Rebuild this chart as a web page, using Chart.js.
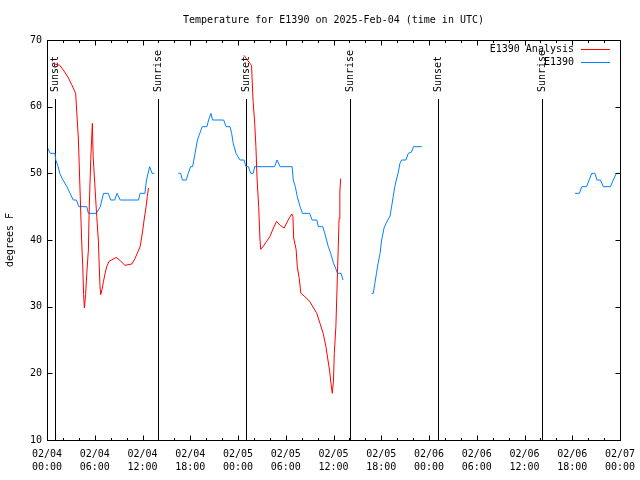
<!DOCTYPE html>
<html>
<head>
<meta charset="utf-8">
<title>Temperature for E1390</title>
<script src="https://cdn.jsdelivr.net/npm/chart.js@4"></script>
<style>
  html, body { margin: 0; padding: 0; background: #fff; }
  canvas { display: block; }
</style>
</head>
<body>
<canvas id="tempChart" width="640" height="480"></canvas>
<script>
// hours since 02/04 00:00 UTC, null = gap in the record
const analysisHours = [
  0.7, 1.6, 2.05, 2.7, 3.1, 3.6, 3.95, 4.15, 4.35, 4.5, 4.6, 4.7, 4.85, 5.0, 5.2, 5.3, 5.5, 5.7, 5.8,
  6.25, 6.45, 6.65, 6.75, 6.9, 7.1, 7.3, 7.5, 7.8, 8.1, 8.7, 9.2, 9.8, 10.65, 11.05, 11.7, 12.0,
  12.2, 12.45, 12.6, 12.75,
  null,
  24.75, 25.5, 25.7, 25.9, 26.1, 26.25, 26.4, 26.6, 26.75, 26.85, 27.2, 27.6, 28.0, 28.45, 28.85,
  29.3, 29.8, 30.3, 30.75, 30.9, 31.0, 31.3, 31.45, 31.7, 31.9, 32.4, 33.0, 33.5, 33.9, 34.3, 34.7,
  35.05, 35.3, 35.5, 35.65, 35.85, 36.0, 36.1, 36.3, 36.4, 36.5, 36.6, 36.7, 36.8, 36.9
];
const analysisTemps = [
  66.5, 66.2, 65.5, 64.3, 63.3, 62, 55, 47.5, 40, 35.8, 31.8, 29.8, 31.8, 35, 38.5, 44.5, 52.2, 57.5, 52.5,
  43.5, 40, 33.2, 31.8, 32.5, 33.8, 35, 36, 36.8, 37, 37.4, 36.9, 36.2, 36.4, 37.2, 39, 41.2,
  43, 45, 46.5, 47.8,
  null,
  67.7, 66.5, 66.2, 60.8, 57.5, 54, 49, 45, 40.3, 38.6, 39.1, 39.8, 40.5, 41.8, 42.8,
  42.2, 41.8, 43, 43.9, 43.5, 40.3, 38.6, 36, 34.2, 32, 31.5, 30.8, 29.8, 29, 27.5, 26,
  24, 22, 20.5, 18.8, 17, 19, 23, 27, 31, 35, 39, 43.2, 47.2, 49.2
];

const obsHours = [
  0, 0.4, 1.0, 1.1, 1.4, 1.6, 2.0, 2.5, 2.9, 3.3, 3.7, 4.0, 5.0, 5.2, 6.2, 6.7, 7.1, 7.7, 8.0, 8.5,
  8.8, 9.2, 11.5, 11.7, 12.3, 12.5, 12.9, 13.2, 13.5,
  null,
  16.5, 16.8, 17.0, 17.5, 17.75, 18.05, 18.3, 18.6, 18.9, 19.2, 19.5, 20.1, 20.3, 20.6, 20.8, 22.2,
  22.5, 23.0, 23.2, 23.4, 23.75, 24.0, 24.25, 24.75, 25.0, 25.3, 25.6, 25.9, 26.1, 28.6, 28.9, 29.3,
  30.8, 30.95, 31.2, 31.45, 31.8, 32.1, 33.0, 33.3, 33.9, 34.1, 34.65, 34.9, 35.35, 35.65, 36.0,
  36.2, 36.5, 36.95, 37.2,
  null,
  40.8, 41.0, 41.2, 41.4, 41.6, 41.85, 42.05, 42.35, 42.6, 43.1, 43.3, 43.5, 43.7, 43.9, 44.15,
  44.35, 44.55, 45.1, 45.4, 45.8, 46.05, 47.1,
  null,
  66.35, 66.9, 67.2, 67.8, 68.45, 68.85, 69.1, 69.55, 69.9, 70.8, 71.15, 71.55, 72.0
];
const obsTemps = [
  54, 53, 53, 52, 51, 50, 49, 48, 47, 46, 46, 45, 45, 44, 44, 45, 47, 47, 46, 46,
  47, 46, 46, 47, 47, 49, 51, 50, 50,
  null,
  50, 50, 49, 49, 50, 51, 51, 53, 55, 56, 57, 57, 58, 59, 58, 58,
  57, 57, 56, 54.5, 53, 52.5, 52, 52, 51, 51, 50, 50, 51, 51, 52, 51,
  51, 49, 48, 46.5, 45, 44, 44, 43, 43, 42, 42, 41, 39, 38, 36.5,
  36, 35, 35, 34,
  null,
  32, 32, 33.5, 35, 36.5, 38, 40, 41.8, 42.5, 43.6, 45, 46.5, 48, 49, 50.2,
  51.5, 52, 52, 53, 53.2, 54, 54,
  null,
  47, 47, 48, 48, 50, 50, 49, 49, 48, 48, 49, 50, 50
];

const sunHours = [1.0, 14.0, 25.02, 38.07, 49.1, 62.2];
const sunLabels = ['Sunset', 'Sunrise', 'Sunset', 'Sunrise', 'Sunset', 'Sunrise'];

const yTicks = [10, 20, 30, 40, 50, 60, 70];
const seriesNames = ['E1390 Analysis', 'E1390'];
const seriesColors = ['#ff0000', '#0080ff'];

const MONO = "'DejaVu Sans Mono', 'Liberation Mono', monospace";

function toPoints(hours, temps) {
  return hours.map(function (h, i) {
    return { x: h === null ? NaN : h, y: temps[i] };
  });
}

// gnuplot style frame, inward ticks, sun lines, legend, titles
const gnuplotDecor = {
  id: 'gnuplotDecor',
  beforeDatasetsDraw(chart) {
    const ctx = chart.ctx;
    const a = chart.chartArea;
    const xs = chart.scales.x;
    ctx.save();
    ctx.strokeStyle = '#000';
    ctx.fillStyle = '#000';
    ctx.lineWidth = 1;

    // sunrise / sunset markers
    ctx.font = '10px ' + MONO;
    sunHours.forEach(function (h, i) {
      const x = Math.round(xs.getPixelForValue(h)) + 0.5;
      ctx.beginPath();
      ctx.moveTo(x, a.bottom);
      ctx.lineTo(x, 99);
      ctx.stroke();
      ctx.save();
      ctx.translate(x, 92);
      ctx.rotate(-Math.PI / 2);
      ctx.textAlign = 'left';
      ctx.textBaseline = 'middle';
      ctx.fillText(sunLabels[i], 0, 0);
      ctx.restore();
    });
    ctx.restore();
  },
  afterDraw(chart) {
    const ctx = chart.ctx;
    const a = chart.chartArea;
    const xs = chart.scales.x;
    const ys = chart.scales.y;
    ctx.save();
    ctx.strokeStyle = '#000';
    ctx.fillStyle = '#000';
    ctx.lineWidth = 1;

    // frame
    const L = Math.round(a.left) + 0.5, R = Math.round(a.right) + 0.5;
    const T = Math.round(a.top) + 0.5, B = Math.round(a.bottom) + 0.5;
    ctx.strokeRect(L, T, R - L, B - T);

    // x ticks every 2 h, longer every 6 h, top and bottom
    ctx.beginPath();
    for (let h = 0; h <= 72; h += 2) {
      const x = Math.round(xs.getPixelForValue(h)) + 0.5;
      const len = h % 6 === 0 ? 5 : 2.5;
      ctx.moveTo(x, B); ctx.lineTo(x, B - len);
      ctx.moveTo(x, T); ctx.lineTo(x, T + len);
    }
    // y ticks left and right
    yTicks.forEach(function (v) {
      const y = Math.round(ys.getPixelForValue(v)) + 0.5;
      ctx.moveTo(L, y); ctx.lineTo(L + 5, y);
      ctx.moveTo(R, y); ctx.lineTo(R - 5, y);
    });
    ctx.stroke();

    // legend
    ctx.font = '10px ' + MONO;
    ctx.textAlign = 'right';
    ctx.textBaseline = 'middle';
    seriesNames.forEach(function (name, i) {
      const y = 49 + i * 13;
      ctx.fillStyle = '#000';
      ctx.fillText(name, 574, y);
      ctx.strokeStyle = seriesColors[i];
      ctx.beginPath();
      ctx.moveTo(581, y + 0.5);
      ctx.lineTo(610, y + 0.5);
      ctx.stroke();
    });

    // title and y axis label
    ctx.fillStyle = '#000';
    ctx.textAlign = 'center';
    ctx.fillText('Temperature for E1390 on 2025-Feb-04 (time in UTC)', (a.left + a.right) / 2, 20);
    ctx.save();
    ctx.translate(10, 240);
    ctx.rotate(-Math.PI / 2);
    ctx.fillText('degrees F', 0, 0);
    ctx.restore();
    ctx.restore();
  }
};

new Chart(document.getElementById('tempChart'), {
  type: 'line',
  data: {
    datasets: [
      {
        label: seriesNames[0],
        data: toPoints(analysisHours, analysisTemps),
        borderColor: seriesColors[0],
        borderWidth: 1,
        pointRadius: 0,
        tension: 0,
        spanGaps: false,
      },
      {
        label: seriesNames[1],
        data: toPoints(obsHours, obsTemps),
        borderColor: seriesColors[1],
        borderWidth: 1,
        pointRadius: 0,
        tension: 0,
        spanGaps: false,
      },
    ],
  },
  options: {
    responsive: false,
    animation: false,
    layout: { padding: { top: 40, right: 20, left: 0, bottom: 0 } },
    plugins: {
      legend: { display: false },
      title: { display: false },
      tooltip: { enabled: false },
    },
    scales: {
      x: {
        type: 'linear',
        min: 0,
        max: 72,
        grid: { display: false, drawTicks: false },
        border: { display: false },
        afterFit: function (scale) {
          scale.height = 40;
          scale.paddingLeft = 0;
          scale.paddingRight = 0;
        },
        ticks: {
          stepSize: 6,
          padding: 8,
          maxRotation: 0,
          autoSkip: false,
          color: '#000',
          font: { family: MONO, size: 10, lineHeight: 1.3 },
          callback: function (v) {
            const day = 4 + Math.floor(v / 24);
            const hr = v % 24;
            return ['02/0' + day, (hr < 10 ? '0' : '') + hr + ':00'];
          },
        },
      },
      y: {
        min: 10,
        max: 70,
        grid: { display: false, drawTicks: false },
        border: { display: false },
        afterFit: function (scale) {
          scale.width = 47;
          scale.paddingTop = 0;
          scale.paddingBottom = 0;
        },
        ticks: {
          stepSize: 10,
          padding: 5,
          color: '#000',
          font: { family: MONO, size: 10 },
        },
      },
    },
  },
  plugins: [gnuplotDecor],
});
</script>
</body>
</html>
